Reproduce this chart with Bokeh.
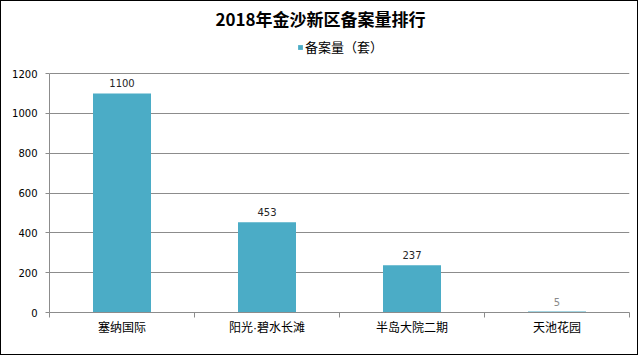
from bokeh.plotting import figure
from bokeh.models import ColumnDataSource, FixedTicker, Legend, LegendItem, Label
from bokeh.core.properties import value
from bokeh.embed import file_html
from bokeh.resources import INLINE

title = "2018年金沙新区备案量排行"
series_name = "备案量（套）"
categories = ["塞纳国际", "阳光·碧水长滩", "半岛大院二期", "天池花园"]
values = [1100, 453, 237, 5]
y_ticks = [0, 200, 400, 600, 800, 1000, 1200]

CJK = "Noto Sans CJK SC"
XFONT = "'Liberation Sans', 'Noto Sans CJK SC'"
NUM = "DejaVu Sans"
BAR = "#4BACC6"
GRID = "#8c8c8c"

# layout (canvas px)
W, H = 638, 355
FL, FR, FB = 48, 10, 44
FRAME_H = H - FB            # frame spans whole height above axis
AXIS_TOP_PX = 239           # px from frame bottom where y=1200 sits
y_max = max(y_ticks)
y_top = y_max * FRAME_H / AXIS_TOP_PX

xs = [i + 0.5 for i in range(len(categories))]
src = ColumnDataSource(dict(x=xs, top=values, label=[str(v) for v in values],
                            color=["#262626" if v > 50 else "#8a8a8a" for v in values]))

p = figure(width=W, height=H, output_backend="svg", toolbar_location=None, title=None,
           x_range=(0, len(categories)), y_range=(0, y_top),
           min_border_left=FL, min_border_right=FR, min_border_top=0, min_border_bottom=FB)
p.outline_line_color = None
p.background_fill_color = "white"
p.border_fill_color = "white"
p.styles = {"border": "1px solid black"}

r = p.vbar(x="x", top="top", width=0.4, source=src, color=BAR, line_color=None)
p.text(x="x", y="top", text="label", source=src, text_align="center", text_baseline="bottom",
       y_offset=-6, text_font=value(NUM), text_font_size="10px", text_color="color")

p.add_layout(Label(x=271, y=294.5, x_units="screen", y_units="screen", text=title,
                   text_align="center", text_baseline="middle", text_font=CJK,
                   text_font_size="17px", text_font_style="bold", text_color="#000000"))

legend = Legend(items=[LegendItem(label=series_name, renderers=[r])], orientation="horizontal",
                location=(248, 256), border_line_color=None, background_fill_alpha=0,
                glyph_width=6, glyph_height=6, label_text_font=CJK, label_text_font_size="13px",
                label_text_color="#000000", label_standoff=2, padding=0, margin=0, spacing=0,
                label_height=13)
p.add_layout(legend, "center")

p.xgrid.grid_line_color = None
p.ygrid.grid_line_color = GRID
p.ygrid.ticker = FixedTicker(ticks=y_ticks)

xa = p.xaxis[0]
xa.ticker = FixedTicker(ticks=xs, minor_ticks=list(range(len(categories) + 1)))
xa.major_label_overrides = {x: c for x, c in zip(xs, categories)}
xa.major_tick_line_color = None
xa.major_tick_out = 5
xa.major_tick_in = 0
xa.minor_tick_line_color = GRID
xa.minor_tick_out = 5
xa.minor_tick_in = 0
xa.axis_line_color = GRID
xa.major_label_text_font = XFONT
xa.major_label_text_font_size = "12px"
xa.major_label_text_color = "#000000"
xa.major_label_standoff = 3

ya = p.yaxis[0]
ya.ticker = FixedTicker(ticks=y_ticks)
ya.bounds = (0, y_max)
ya.axis_line_color = GRID
ya.major_tick_line_color = GRID
ya.major_tick_out = 4
ya.major_tick_in = 0
ya.minor_tick_line_color = None
ya.major_label_text_font = NUM
ya.major_label_text_font_size = "10px"
ya.major_label_text_color = "#000000"
ya.major_label_standoff = 8

open("out.html", "w").write(file_html(p, INLINE))
